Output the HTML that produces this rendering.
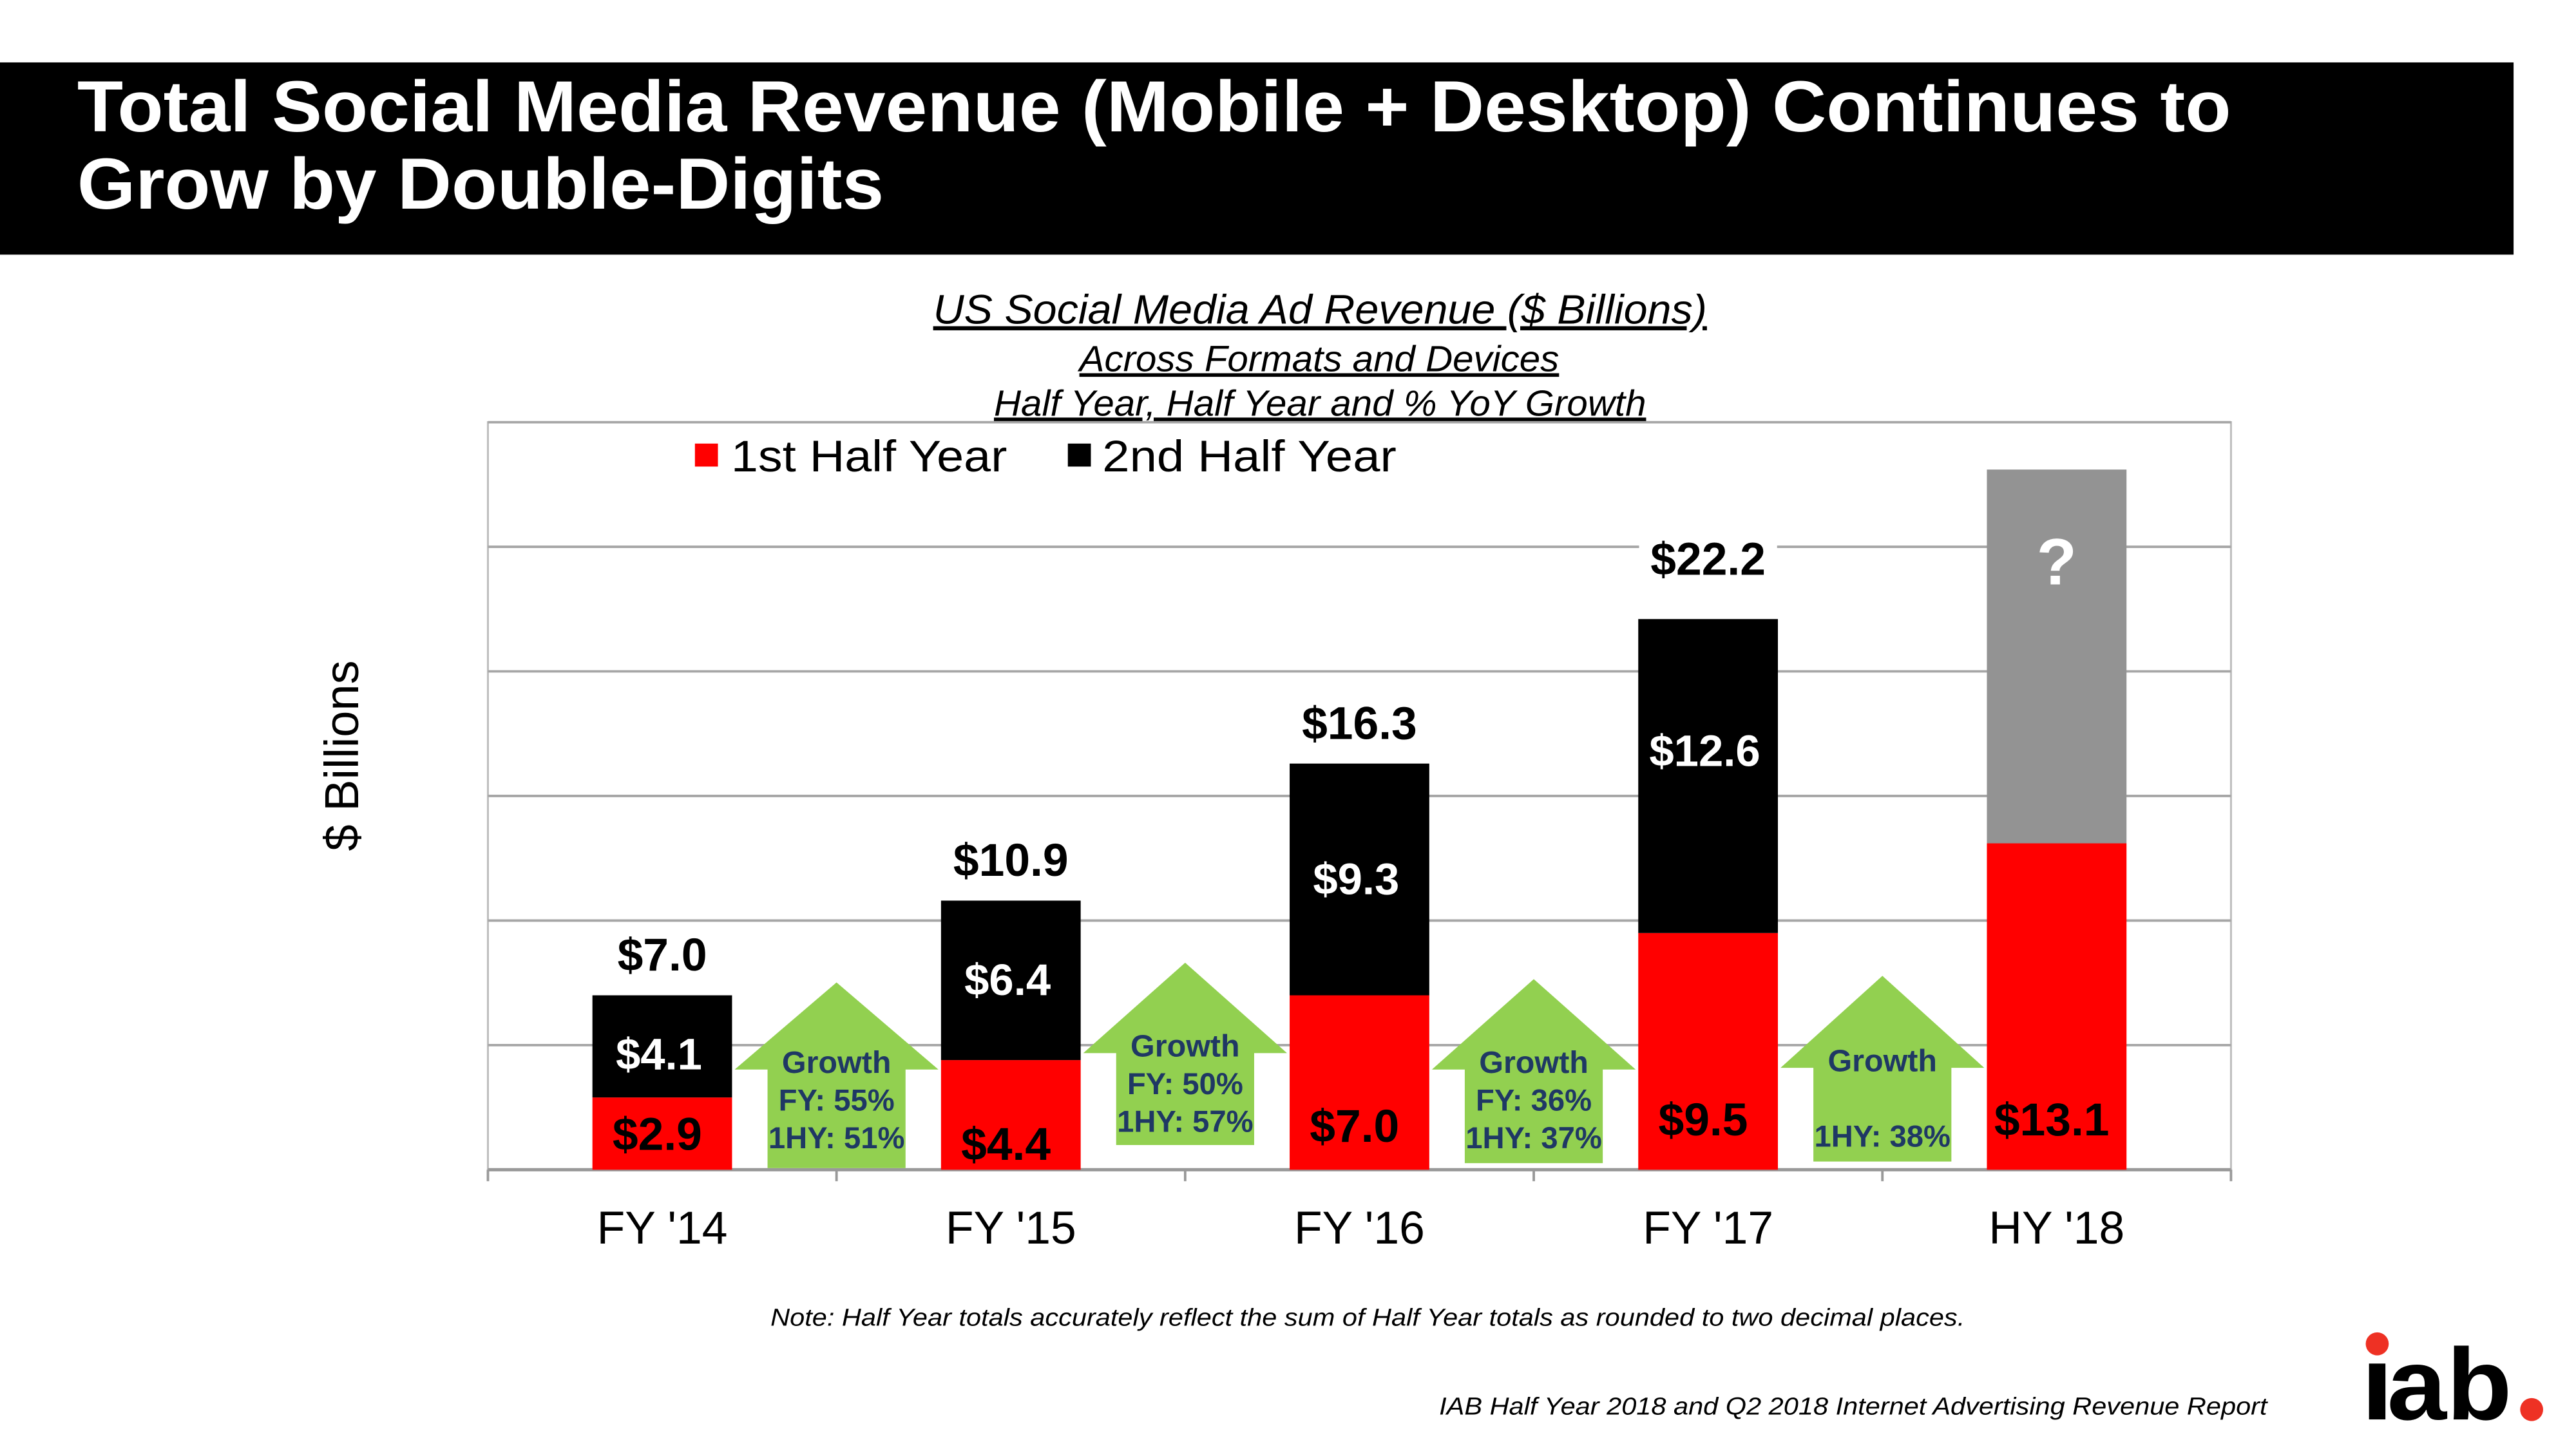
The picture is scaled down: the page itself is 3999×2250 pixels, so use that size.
<!DOCTYPE html>
<html><head><meta charset="utf-8"><style>
html,body{margin:0;padding:0;background:#fff;}
svg{display:block;font-family:"Liberation Sans",Arial,sans-serif;}
</style></head><body>
<svg id="chart" width="3999" height="2250" viewBox="0 0 1568 882" preserveAspectRatio="none" xmlns="http://www.w3.org/2000/svg">
<rect x="0" y="0" width="1568" height="882" fill="#fff"/>
<g>
<rect x="0" y="38" width="1530" height="117" fill="#000"/>
<text x="47" y="80" fill="#fff" font-size="44" font-weight="bold" textLength="1311" lengthAdjust="spacingAndGlyphs">Total Social Media Revenue (Mobile + Desktop) Continues to</text>
<text x="47" y="127" fill="#fff" font-size="44" font-weight="bold" textLength="491" lengthAdjust="spacingAndGlyphs">Grow by Double-Digits</text>
</g>
<text x="568" y="197" font-size="25" font-style="italic" text-decoration="underline" textLength="471" lengthAdjust="spacingAndGlyphs">US Social Media Ad Revenue ($ Billions)</text>
<text x="657" y="226" font-size="22" font-style="italic" text-decoration="underline" textLength="292" lengthAdjust="spacingAndGlyphs">Across Formats and Devices</text>
<text x="605" y="253" font-size="22" font-style="italic" text-decoration="underline" textLength="397" lengthAdjust="spacingAndGlyphs">Half Year, Half Year and % YoY Growth</text>
<text transform="translate(218,460) rotate(-90)" text-anchor="middle" font-size="29">$ Billions</text>
<g id="plot"></g>
<g>
<rect x="423" y="270" width="14" height="14" fill="#ff0000"/>
<text x="445" y="287" font-size="27" textLength="168" lengthAdjust="spacingAndGlyphs">1st Half Year</text>
<rect x="650" y="270" width="14" height="14" fill="#000"/>
<text x="671" y="287" font-size="27" textLength="179" lengthAdjust="spacingAndGlyphs">2nd Half Year</text>
</g>
<text x="469" y="807" font-size="15" font-style="italic" textLength="727" lengthAdjust="spacingAndGlyphs">Note: Half Year totals accurately reflect the sum of Half Year totals as rounded to two decimal places.</text>
<text x="876" y="861" font-size="15" font-style="italic" textLength="504" lengthAdjust="spacingAndGlyphs">IAB Half Year 2018 and Q2 2018 Internet Advertising Revenue Report</text>
<g>
<rect x="1442" y="830" width="10" height="34" fill="#000"/>
<circle cx="1447" cy="818" r="7" fill="#ee3124"/>
<text x="1453" y="864" font-size="62" font-weight="bold" textLength="76" lengthAdjust="spacingAndGlyphs">ab</text>
<circle cx="1541" cy="858" r="7" fill="#ee3124"/>
</g>
</svg>
<script>
const categories = ["FY '14","FY '15","FY '16","FY '17","HY '18"];
const firstHalf = [2.9, 4.4, 7.0, 9.5, 13.1];
const secondHalf = [4.1, 6.4, 9.3, 12.6, 15.0];
const totals = ["$7.0","$10.9","$16.3","$22.2","?"];
const firstLabels = ["$2.9","$4.4","$7.0","$9.5","$13.1"];
const secondLabels = ["$4.1","$6.4","$9.3","$12.6",""];
const growthFY = ["FY: 55%","FY: 50%","FY: 36%",""];
const growth1HY = ["1HY: 51%","1HY: 57%","1HY: 37%","1HY: 38%"];
const yTicks = [0,5,10,15,20,25,30];

const NS="http://www.w3.org/2000/svg";
const plot=document.getElementById('plot');
const X0=297,X1=1358,Y0=712,Y1=257,YMAX=30;
const band=(X1-X0)/categories.length;
const y=v=>Y0-(v/YMAX)*(Y0-Y1);
const xc=i=>X0+band*(i+0.5);
const BW=85;
function mk(tag,attrs,parent){const e=document.createElementNS(NS,tag);for(const k in attrs)e.setAttribute(k,attrs[k]);(parent||plot).appendChild(e);return e;}

const frame=mk('rect',{x:X0,y:Y1,width:X1-X0,height:Y0-Y1,fill:'none',stroke:'#bfbfbf','stroke-width':1.2});


yTicks.forEach(t=>{
 const g=mk('line',{x1:X0,x2:X1,y1:y(t),y2:y(t),stroke:t===0?'#999':'#a6a6a6','stroke-width':t===0?2:1.5});
 
 
});
for(let i=0;i<=categories.length;i++){
 const tk=mk('line',{x1:X0+band*i,x2:X0+band*i,y1:Y0,y2:Y0+7,stroke:'#999','stroke-width':1.5});
 
 
}
const firstLabelOffset=[21,15,26,30,30];
categories.forEach((c,i)=>{
 const cx=xc(i);
 const last=i===categories.length-1;
 const r=mk('rect',{x:cx-BW/2,y:y(firstHalf[i]),width:BW,height:Y0-y(firstHalf[i]),fill:'#ff0000'});
 
 
 const tot=firstHalf[i]+secondHalf[i];
 const b=mk('rect',{x:cx-BW/2,y:y(tot),width:BW,height:y(firstHalf[i])-y(tot),fill:last?'#939393':'#000'});
 
 
 const xl=mk('text',{x:cx,y:Y0+45,'text-anchor':'middle','font-size':28});
 xl.textContent=c;
 
 
 const fl=mk('text',{x:cx-3,y:Y0-firstLabelOffset[i]+9,'text-anchor':'middle','font-size':28,'font-weight':'bold',fill:'#000'});
 fl.textContent=firstLabels[i];
 
 
 if(secondLabels[i]){
  const sl=mk('text',{x:cx-2,y:(y(tot)+y(firstHalf[i]))/2+(i===0?14:i===3?-6:9),'text-anchor':'middle','font-size':27,'font-weight':'bold',fill:'#fff'});
  sl.textContent=secondLabels[i];
  
  
 }
 if(last){
  const q=mk('text',{x:cx,y:y(tot)+70,'text-anchor':'middle','font-size':40,'font-weight':'bold',fill:'#fff'});
  q.textContent=totals[i];
  
  
 } else {
  const ty=i===3?y(tot)-27:y(tot)-15;
  if(i===3){const bg=mk('rect',{x:cx-42,y:ty-26,width:84,height:34,fill:'#fff'});}
  const tl=mk('text',{x:cx,y:ty,'text-anchor':'middle','font-size':28,'font-weight':'bold'});
  tl.textContent=totals[i];
  
  
 }
});
const arrowTop=[598,586,596,594];
const arrowBase=[651,641,651,650];
const arrowBottom=[711,697,708,707];
growth1HY.forEach((g,i)=>{
 const cx=X0+band*(i+1);
 const tip=arrowTop[i],hb=arrowBase[i],bt=arrowBottom[i];
 const pts=[[cx,tip],[cx+62,hb],[cx+42,hb],[cx+42,bt],[cx-42,bt],[cx-42,hb],[cx-62,hb]].map(p=>p.join(',')).join(' ');
 const a=mk('polygon',{points:pts,fill:'#92d050'});
 
 
 const t1=mk('text',{x:cx,y:hb+2,'text-anchor':'middle','font-size':19,'font-weight':'bold',fill:'#1f3864'});
 t1.textContent='Growth';
 
 
 if(growthFY[i]){
  const t2=mk('text',{x:cx,y:hb+25,'text-anchor':'middle','font-size':18.5,'font-weight':'bold',fill:'#1f3864'});
  t2.textContent=growthFY[i];
  
  
 }
 const t3=mk('text',{x:cx,y:hb+48,'text-anchor':'middle','font-size':18.5,'font-weight':'bold',fill:'#1f3864'});
 t3.textContent=g;
 
 
});
</script>
</body></html>
